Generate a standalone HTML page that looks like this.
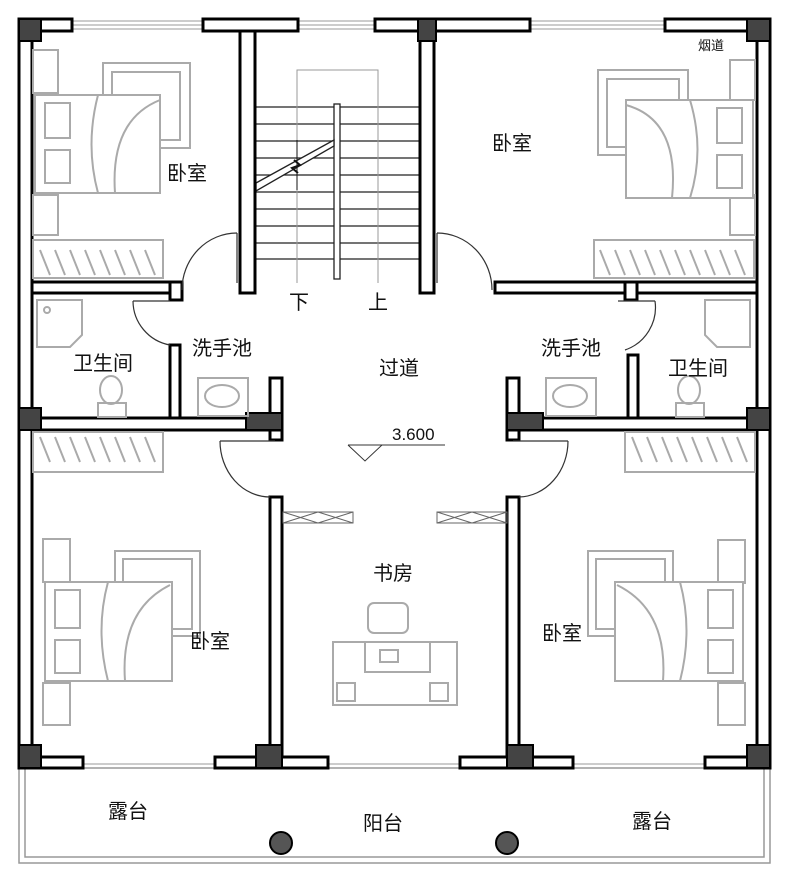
<!DOCTYPE html>
<html><head><meta charset="utf-8"><style>
html,body{margin:0;padding:0;background:#fff;}
svg{display:block;}
text{font-family:"Liberation Sans","Noto Sans CJK SC",sans-serif;fill:#111;}
</style></head><body>
<svg width="789" height="880" viewBox="0 0 789 880" xmlns="http://www.w3.org/2000/svg">
<!-- balcony rail -->
<g fill="none" stroke="#999" stroke-width="1.5">
<rect x="19" y="768" width="751" height="95"/>
<polyline points="25,768 25,857 764,857 764,768"/>
</g>
<!-- windows -->
<g stroke="#999" stroke-width="1">
<line x1="72" y1="21" x2="203" y2="21"/><line x1="72" y1="25" x2="203" y2="25"/><line x1="72" y1="29" x2="203" y2="29"/>
<line x1="298" y1="21" x2="375" y2="21"/><line x1="298" y1="25" x2="375" y2="25"/><line x1="298" y1="29" x2="375" y2="29"/>
<line x1="530" y1="21" x2="665" y2="21"/><line x1="530" y1="25" x2="665" y2="25"/><line x1="530" y1="29" x2="665" y2="29"/>
<line x1="83" y1="764" x2="215" y2="764"/><line x1="328" y1="764" x2="460" y2="764"/><line x1="573" y1="764" x2="705" y2="764"/>
<line x1="22" y1="320" x2="22" y2="395"/><line x1="766" y1="320" x2="766" y2="395"/>
</g>
<!-- stairs -->
<g stroke="#222" stroke-width="1.3">
<line x1="256" y1="107" x2="420" y2="107"/><line x1="256" y1="124" x2="420" y2="124"/><line x1="256" y1="141" x2="420" y2="141"/><line x1="256" y1="158" x2="420" y2="158"/><line x1="256" y1="175" x2="420" y2="175"/><line x1="256" y1="192" x2="420" y2="192"/><line x1="256" y1="209" x2="420" y2="209"/><line x1="256" y1="226" x2="420" y2="226"/><line x1="256" y1="243" x2="420" y2="243"/><line x1="256" y1="259" x2="420" y2="259"/>
</g>
<g fill="none" stroke="#999" stroke-width="1">
<polyline points="297,283 297,70 378,70 378,283"/>
</g>
<rect x="334" y="104" width="6" height="175" fill="#fff" stroke="#222" stroke-width="1.3"/>
<polygon points="256,183 334,140 334,146 256,191" fill="#fff" stroke="#222" stroke-width="1.3"/>
<polyline points="294,160 300,165 292,168 298,173" fill="none" stroke="#111" stroke-width="2"/>
<line x1="297" y1="140" x2="297" y2="190" stroke="#111" stroke-width="1"/>
<!-- walls -->
<g fill="#fff" stroke="#000" stroke-width="3">
<rect x="19" y="19" width="13" height="749"/>
<rect x="757" y="19" width="13" height="749"/>
<rect x="19" y="19" width="53" height="12"/>
<rect x="203" y="19" width="95" height="12"/>
<rect x="375" y="19" width="155" height="12"/>
<rect x="665" y="19" width="105" height="12"/>
<rect x="240" y="31" width="15" height="262"/>
<rect x="420" y="31" width="14" height="262"/>
<rect x="32" y="282" width="150" height="11"/>
<rect x="170" y="282" width="12" height="18"/>
<rect x="495" y="282" width="262" height="11"/>
<rect x="625" y="282" width="12" height="18"/>
<rect x="170" y="345" width="10" height="75"/>
<rect x="628" y="355" width="10" height="65"/>
<rect x="270" y="378" width="12" height="62"/>
<rect x="507" y="378" width="12" height="62"/>
<rect x="32" y="418" width="248" height="12"/>
<rect x="507" y="418" width="250" height="12"/>
<rect x="270" y="497" width="12" height="263"/>
<rect x="507" y="497" width="12" height="263"/>
<rect x="19" y="757" width="64" height="11"/>
<rect x="215" y="757" width="113" height="11"/>
<rect x="460" y="757" width="113" height="11"/>
<rect x="705" y="757" width="65" height="11"/>
</g>
<!-- dark pillars -->
<g fill="#444" stroke="#000" stroke-width="2">
<rect x="19" y="19" width="22" height="22"/><rect x="747" y="19" width="23" height="22"/>
<rect x="418" y="19" width="18" height="22"/>
<rect x="19" y="408" width="22" height="22"/><rect x="747" y="408" width="23" height="22"/>
<rect x="246" y="413" width="36" height="17"/><rect x="507" y="413" width="36" height="17"/>
<rect x="19" y="745" width="22" height="23"/><rect x="747" y="745" width="23" height="23"/>
<rect x="256" y="745" width="26" height="23"/><rect x="507" y="745" width="26" height="23"/>
</g>
<!-- columns -->
<circle cx="281" cy="843" r="11" fill="#555" stroke="#000" stroke-width="2"/>
<circle cx="507" cy="843" r="11" fill="#555" stroke="#000" stroke-width="2"/>
<!-- doors -->
<g fill="none" stroke="#333" stroke-width="1.2">
<line x1="237" y1="233" x2="237" y2="283"/><path d="M182,290 A55,57 0 0 1 237,233"/>
<line x1="437" y1="233" x2="437" y2="283"/><path d="M492,290 A55,57 0 0 0 437,233"/>
<line x1="133" y1="301" x2="170" y2="301"/><path d="M133,301 A45,45 0 0 0 170,345"/>
<line x1="655" y1="301" x2="618" y2="301"/><path d="M655,301 A45,45 0 0 1 625,350"/>
<line x1="220" y1="441" x2="275" y2="441"/><path d="M220,441 A50,56 0 0 0 270,497"/>
<line x1="568" y1="441" x2="513" y2="441"/><path d="M568,441 A50,56 0 0 1 519,497"/>
</g>
<!-- sliding doors -->
<g fill="none" stroke="#666" stroke-width="1">
<rect x="283" y="512" width="70" height="11"/><path d="M283,512 L318,523 M283,523 L318,512 M318,512 L353,523 M318,523 L353,512"/>
<rect x="437" y="512" width="70" height="11"/><path d="M437,512 L472,523 M437,523 L472,512 M472,512 L507,523 M472,523 L507,512"/>
</g>
<!-- furniture gray -->
<g fill="none" stroke="#aaa" stroke-width="2">
<!-- top-left bedroom -->
<rect x="33" y="50" width="25" height="43"/><rect x="33" y="195" width="25" height="40"/>
<rect x="103" y="63" width="87" height="85"/><rect x="112" y="72" width="68" height="68"/>
<rect x="35" y="95" width="125" height="98" fill="#fff"/>
<path d="M98,95 Q85,145 98,193 M160,100 Q110,120 115,193"/>
<rect x="45" y="103" width="25" height="35"/><rect x="45" y="150" width="25" height="33"/>
<rect x="33" y="240" width="130" height="38"/><path d="M40,250 l10,25 M55,250 l10,25 M70,250 l10,25 M85,250 l10,25 M100,250 l10,25 M115,250 l10,25 M130,250 l10,25 M145,250 l10,25"/>
<!-- top-right bedroom -->
<rect x="730" y="60" width="25" height="40"/><rect x="730" y="195" width="25" height="40"/>
<rect x="598" y="70" width="90" height="85"/><rect x="607" y="79" width="72" height="68"/>
<rect x="626" y="100" width="127" height="98" fill="#fff"/>
<path d="M690,100 Q705,150 690,198 M626,105 Q680,120 672,198"/>
<rect x="717" y="108" width="25" height="35"/><rect x="717" y="155" width="25" height="33"/>
<rect x="594" y="240" width="160" height="38"/><path d="M600,250 l10,25 M615,250 l10,25 M630,250 l10,25 M645,250 l10,25 M660,250 l10,25 M675,250 l10,25 M690,250 l10,25 M705,250 l10,25 M720,250 l10,25 M735,250 l10,25"/>
<!-- bathrooms -->
<path d="M37,300 h45 v35 l-12,12 h-33 z"/><circle cx="47" cy="310" r="3"/>
<ellipse cx="111" cy="390" rx="11" ry="14"/><rect x="98" y="403" width="28" height="14"/>
<path d="M750,300 h-45 v35 l12,12 h33 z"/>
<ellipse cx="689" cy="390" rx="11" ry="14"/><rect x="676" y="403" width="28" height="14"/>
<rect x="198" y="378" width="50" height="38"/><ellipse cx="222" cy="396" rx="17" ry="11"/>
<rect x="546" y="378" width="50" height="38"/><ellipse cx="570" cy="396" rx="17" ry="11"/>
<!-- lower wardrobes -->
<rect x="33" y="432" width="130" height="40"/><path d="M40,437 l10,25 M55,437 l10,25 M70,437 l10,25 M85,437 l10,25 M100,437 l10,25 M115,437 l10,25 M130,437 l10,25 M145,437 l10,25"/>
<rect x="625" y="432" width="130" height="40"/><path d="M632,437 l10,25 M647,437 l10,25 M662,437 l10,25 M677,437 l10,25 M692,437 l10,25 M707,437 l10,25 M722,437 l10,25 M737,437 l10,25"/>
<!-- lower-left bedroom -->
<rect x="43" y="539" width="27" height="43"/><rect x="43" y="683" width="27" height="42"/>
<rect x="115" y="551" width="85" height="85"/><rect x="123" y="559" width="69" height="70"/>
<rect x="45" y="582" width="127" height="99" fill="#fff"/>
<path d="M108,582 Q95,630 108,681 M170,585 Q120,610 125,681"/>
<rect x="55" y="590" width="25" height="38"/><rect x="55" y="640" width="25" height="33"/>
<!-- lower-right bedroom -->
<rect x="718" y="540" width="27" height="43"/><rect x="718" y="683" width="27" height="42"/>
<rect x="588" y="551" width="85" height="85"/><rect x="596" y="559" width="69" height="70"/>
<rect x="615" y="582" width="128" height="99" fill="#fff"/>
<path d="M680,582 Q693,630 680,681 M617,585 Q668,610 663,681"/>
<rect x="708" y="590" width="25" height="38"/><rect x="708" y="640" width="25" height="33"/>
<!-- study -->
<rect x="333" y="642" width="124" height="63"/><rect x="365" y="642" width="65" height="30"/>
<rect x="368" y="603" width="40" height="30" rx="6"/>
<rect x="337" y="683" width="18" height="18"/><rect x="430" y="683" width="18" height="18"/>
<rect x="380" y="650" width="18" height="12"/>
</g>
<!-- level mark -->
<g fill="none" stroke="#333" stroke-width="1">
<polyline points="348,445 445,445"/><polyline points="348,445 365,461 382,445"/>
</g>
<!-- labels -->
<g font-size="20">
<text x="167" y="180">卧室</text>
<text x="492" y="150">卧室</text>
<text x="73" y="370">卫生间</text>
<text x="192" y="355">洗手池</text>
<text x="379" y="375">过道</text>
<text x="541" y="355">洗手池</text>
<text x="668" y="375">卫生间</text>
<text x="373" y="580">书房</text>
<text x="190" y="648">卧室</text>
<text x="542" y="640">卧室</text>
<text x="108" y="818">露台</text>
<text x="363" y="830">阳台</text>
<text x="632" y="828">露台</text>
<text x="289" y="309">下</text>
<text x="368" y="309">上</text>
</g>
<text x="392" y="440" font-size="17" fill="#444">3.600</text>
<text x="698" y="50" font-size="13">烟道</text>
</svg>
</body></html>
